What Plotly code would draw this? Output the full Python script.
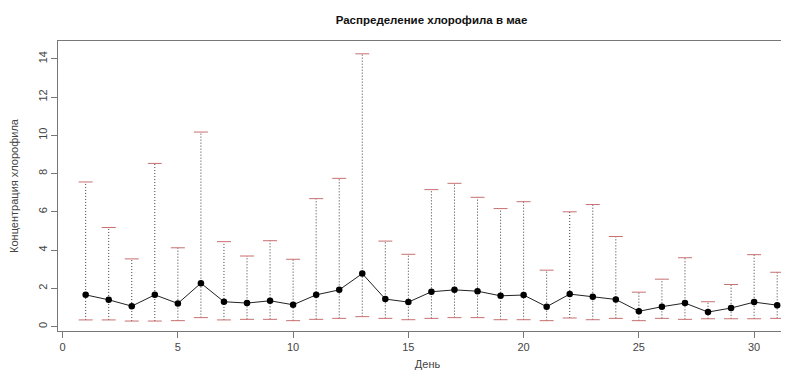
import plotly.graph_objects as go

days = list(range(1, 32))
mean_vals = [1.66, 1.40, 1.07, 1.66, 1.21, 2.27, 1.30, 1.23, 1.35, 1.14, 1.66,
             1.92, 2.77, 1.44, 1.28, 1.82, 1.92, 1.85, 1.61, 1.65, 1.04,
             1.70, 1.56, 1.42, 0.80, 1.04, 1.23, 0.76, 0.97, 1.28, 1.12]
upper_vals = [7.56, 5.18, 3.54, 8.53, 4.12, 10.17, 4.44, 3.69, 4.49, 3.52, 6.69,
              7.75, 14.26, 4.47, 3.78, 7.16, 7.49, 6.76, 6.17, 6.53, 2.95,
              6.00, 6.38, 4.71, 1.80, 2.48, 3.60, 1.30, 2.20, 3.76, 2.84]
lower_vals = [0.35, 0.35, 0.29, 0.29, 0.31, 0.47, 0.35, 0.38, 0.38, 0.31, 0.38,
              0.43, 0.52, 0.43, 0.36, 0.43, 0.47, 0.47, 0.36, 0.36, 0.31,
              0.45, 0.36, 0.43, 0.31, 0.43, 0.38, 0.41, 0.41, 0.41, 0.43]
x_ticks = [0, 5, 10, 15, 20, 25, 30]
y_ticks = [0, 2, 4, 6, 8, 10, 12, 14]

title_text = "Распределение хлорофила в мае"
x_title = "День"
y_title = "Концентрация хлорофила"

# vertical dotted whiskers
wx, wy = [], []
for d, lo, hi in zip(days, lower_vals, upper_vals):
    wx += [d, d, None]
    wy += [lo, hi, None]

fig = go.Figure()
fig.add_trace(go.Scatter(x=wx, y=wy, mode="lines",
                         line=dict(color="#3a3a3a", width=1, dash="1px,2px"),
                         hoverinfo="skip", showlegend=False))
fig.add_trace(go.Scatter(x=days + days, y=upper_vals + lower_vals, mode="markers",
                         marker=dict(symbol="line-ew", size=10,
                                     line=dict(color="#c97070", width=1)),
                         hoverinfo="skip", showlegend=False))
fig.add_trace(go.Scatter(x=days, y=mean_vals, mode="lines+markers",
                         line=dict(color="#222222", width=1),
                         marker=dict(color="black", size=6.5, symbol="circle"),
                         showlegend=False))

font = dict(family="Liberation Sans, Arial, sans-serif", size=11, color="#444444")
fig.update_layout(
    width=789, height=372,
    margin=dict(l=50, r=0, t=33, b=49),
    paper_bgcolor="white", plot_bgcolor="white",
    font=font,
    title=dict(text="<b>" + title_text + "</b>", x=(50 + 797) / 2 / 789, xanchor="center",
               y=1 - 12 / 372, yanchor="middle",
               font=dict(family="Liberation Sans, Arial, sans-serif", size=11.5, color="#111111")),
    xaxis=dict(range=[-0.2, 31.86], tickvals=x_ticks, showgrid=False, zeroline=False,
               automargin=False,
               showline=True, mirror=True, linecolor="#777777", linewidth=1,
               ticks="outside", ticklen=6, tickcolor="#777777",
               title=dict(text=x_title, standoff=8, font=dict(size=11, color="#444444"))),
    yaxis=dict(range=[-0.23, 14.93], tickvals=y_ticks, showgrid=False, zeroline=False,
               automargin=False,
               showline=True, mirror=True, linecolor="#777777", linewidth=1,
               ticks="outside", ticklen=6, tickcolor="#777777", tickangle=-90,
               title=dict(text=y_title, standoff=16, font=dict(size=11, color="#444444"))),
)
fig.write_html("out.html")
